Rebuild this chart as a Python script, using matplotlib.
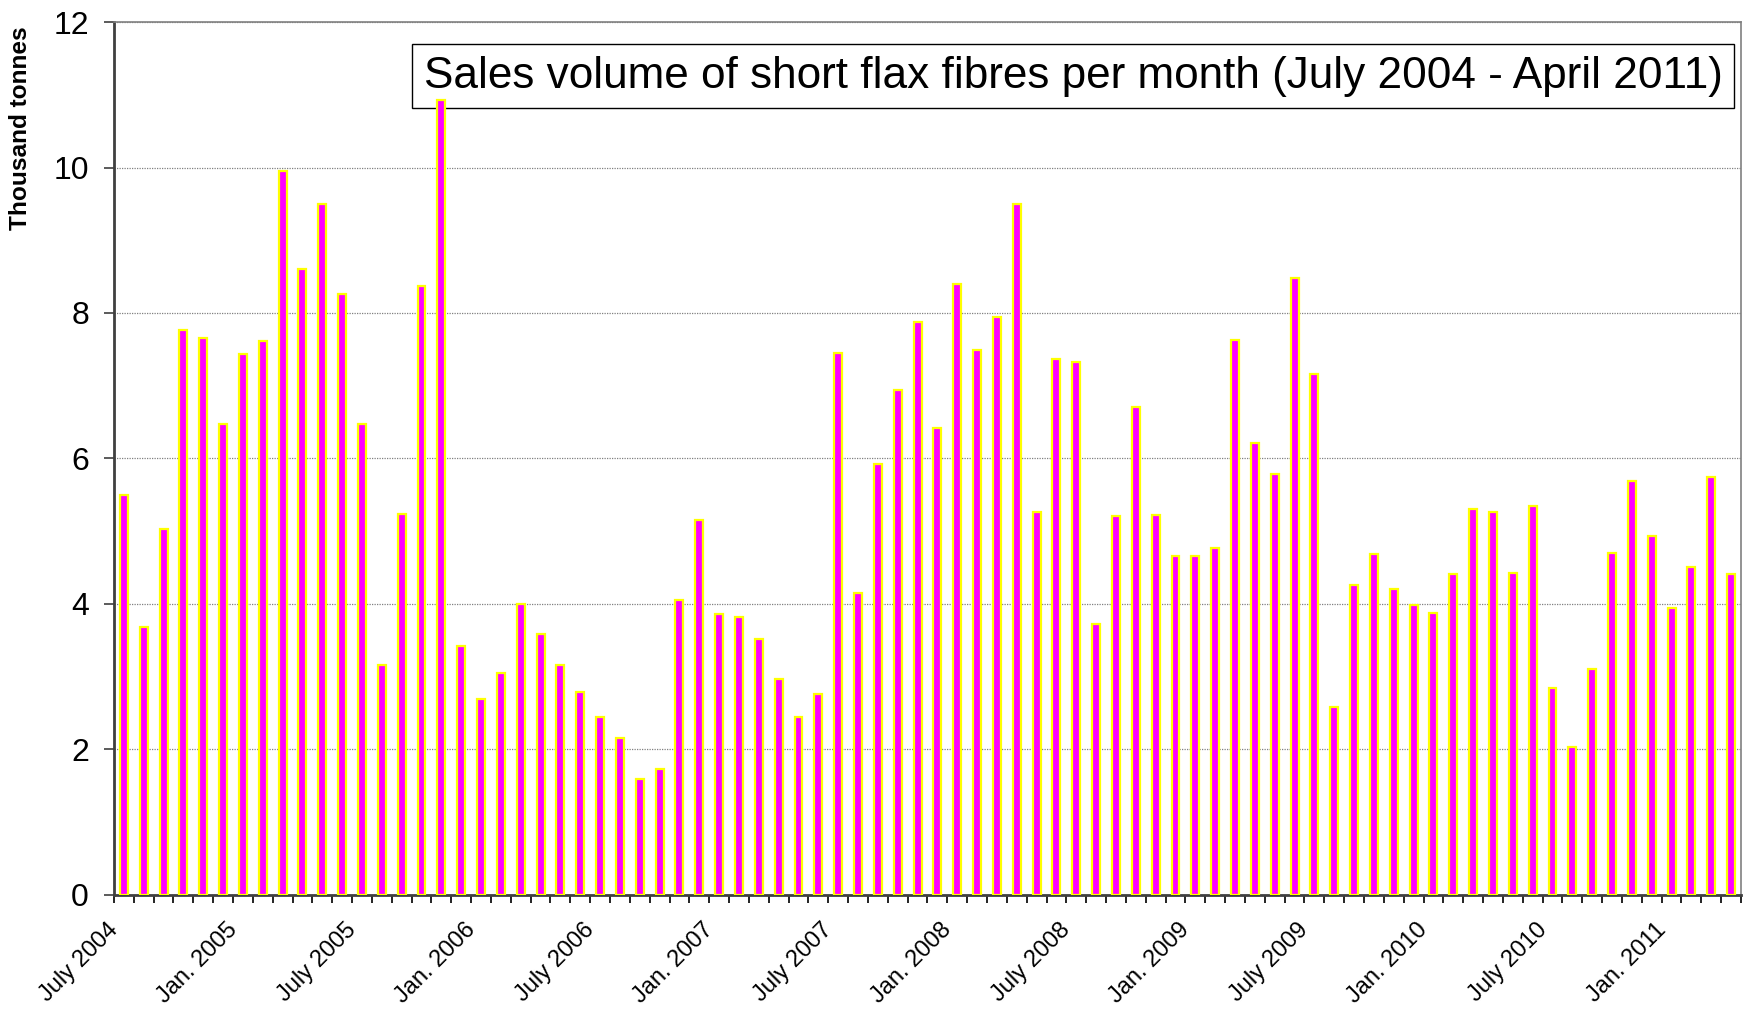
import numpy as np
import matplotlib
matplotlib.use("Agg")
import matplotlib.pyplot as plt
from matplotlib.transforms import ScaledTranslation

plt.rcParams['font.family'] = ['Liberation Sans', 'DejaVu Sans']

# monthly sales, July 2004 .. April 2011 (thousand tonnes)
values = [
    5.50, 3.68, 5.03, 7.77, 7.66, 6.47, 7.43, 7.62, 9.95, 8.61, 9.50, 8.26,
    6.48, 3.16, 5.24, 8.37, 10.93, 3.42, 2.70, 3.05, 4.00, 3.59, 3.16, 2.79,
    2.45, 2.16, 1.59, 1.73, 4.06, 5.16, 3.86, 3.82, 3.52, 2.97, 2.44, 2.76,
    7.45, 4.15, 5.92, 6.94, 7.88, 6.42, 8.40, 7.49, 7.94, 9.50, 5.26, 7.37,
    7.33, 3.72, 5.21, 6.71, 5.23, 4.66, 4.66, 4.77, 7.63, 6.21, 5.79, 8.48,
    7.16, 2.59, 4.26, 4.69, 4.21, 3.98, 3.88, 4.41, 5.30, 5.26, 4.43, 5.35,
    2.85, 2.04, 3.11, 4.70, 5.69, 4.93, 3.95, 4.51, 5.75, 4.41,
]
tick_labels = ['July 2004', 'Jan. 2005', 'July 2005', 'Jan. 2006', 'July 2006',
               'Jan. 2007', 'July 2007', 'Jan. 2008', 'July 2008', 'Jan. 2009',
               'July 2009', 'Jan. 2010', 'July 2010', 'Jan. 2011']
title = 'Sales volume of short flax fibres per month (July 2004 - April 2011)'

n = len(values)
x = np.arange(n)

fig = plt.figure(figsize=(17.48, 10.10), dpi=100)
ax = fig.add_axes([0.0652, 0.1139, 0.9308, 0.8643])

ax.bar(x, values, width=0.4, color='#FF00FF', edgecolor='#FFFF00',
       linewidth=1.6, zorder=3)

ax.set_xlim(-0.5, n - 0.5)
ax.set_ylim(0, 12)
ax.set_yticks(np.arange(0, 13, 2))
ax.tick_params(axis='y', labelsize=23, length=7, width=1.2, pad=11, color='#404040')
ax.yaxis.grid(True, linestyle=(0, (1, 1)), color='#808080', linewidth=0.9, zorder=0)

# ticks on every month boundary, labels every six months
bounds = np.arange(-0.5, n, 1)
labs = [''] * len(bounds)
for i, t in enumerate(tick_labels):
    labs[i * 6] = t
ax.set_xticks(bounds)
ax.set_xticklabels(labs, rotation=45, ha='right', va='top',
                   rotation_mode='anchor', fontsize=17)
ax.tick_params(axis='x', length=6, width=1.2, pad=4)
shift = ScaledTranslation(-0.07, -0.10, fig.dpi_scale_trans)
for lab in ax.get_xticklabels():
    lab.set_transform(lab.get_transform() + shift)

for s in ['left', 'bottom']:
    ax.spines[s].set_color('#404040')
    ax.spines[s].set_linewidth(2)
for s in ['top', 'right']:
    ax.spines[s].set_color('#808080')
    ax.spines[s].set_linewidth(1.2)

fig.text(0.012, 0.974, 'Thousand tonnes', rotation=90, ha='center', va='top',
         fontsize=17.6, fontweight='bold')

# title box sits behind the bars (the tallest bar crosses its lower edge)
ax.text(0.614, 0.9245, title, ha='center', va='center', fontsize=31.8,
        transform=fig.transFigure, zorder=2,
        bbox=dict(boxstyle='square,pad=0.26', facecolor='white',
                  edgecolor='black', linewidth=1))

fig.savefig('out.png', dpi=100, facecolor='white')
